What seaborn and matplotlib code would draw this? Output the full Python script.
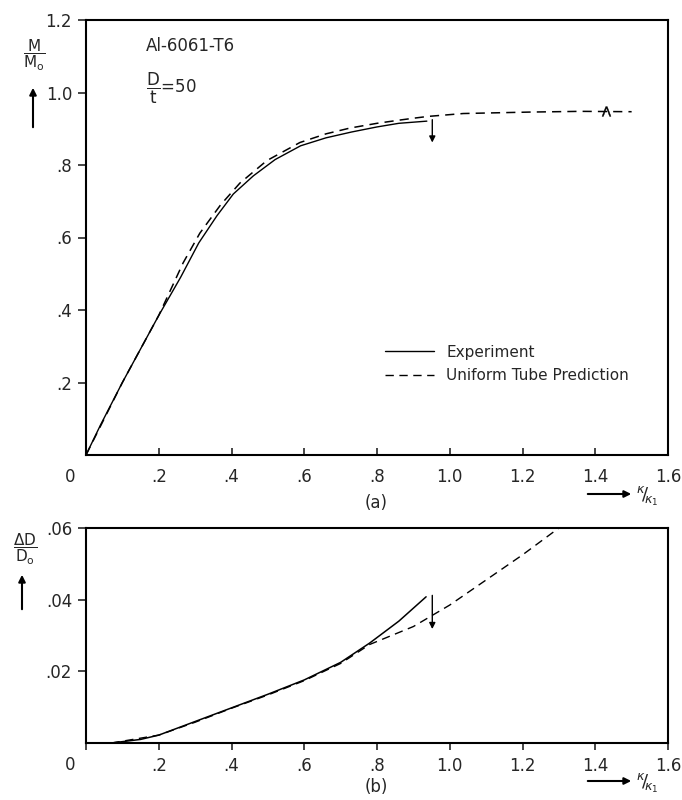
import numpy as np
import pandas as pd
import matplotlib
matplotlib.use("Agg")
import matplotlib.pyplot as plt
import seaborn as sns

# ---------------- data ----------------
# Panel (a): M/Mo versus kappa/kappa1
exp_a_x = [0.0, 0.04, 0.10, 0.20, 0.26, 0.31, 0.36, 0.405, 0.46, 0.52, 0.59, 0.66, 0.73, 0.80, 0.86, 0.937]
exp_a_y = [0.0, 0.083, 0.20, 0.385, 0.49, 0.585, 0.66, 0.72, 0.77, 0.815, 0.853, 0.875, 0.891, 0.905, 0.915, 0.921]
pred_a_x = [0.0, 0.10, 0.20, 0.267, 0.313, 0.37, 0.423, 0.497, 0.588, 0.66, 0.726, 0.80, 0.863, 0.90, 0.94, 1.037, 1.22, 1.36, 1.50]
pred_a_y = [0.0, 0.20, 0.385, 0.53, 0.612, 0.69, 0.75, 0.812, 0.862, 0.886, 0.902, 0.915, 0.924, 0.929, 0.934, 0.942, 0.946, 0.948, 0.947]

# Panel (b): dD/Do versus kappa/kappa1
exp_b_x = [0.07, 0.15, 0.20, 0.30, 0.40, 0.50, 0.60, 0.70, 0.78, 0.86, 0.935]
exp_b_y = [0.0, 0.0010, 0.0022, 0.0060, 0.0098, 0.0136, 0.0176, 0.0225, 0.0279, 0.0340, 0.0408]
pred_b_x = [0.07, 0.20, 0.30, 0.40, 0.50, 0.60, 0.70, 0.78, 0.90, 1.00, 1.10, 1.20, 1.30]
pred_b_y = [0.0, 0.0022, 0.0058, 0.0097, 0.0134, 0.0174, 0.0222, 0.0275, 0.0325, 0.0385, 0.0455, 0.0525, 0.0600]

# buckling/collapse arrows (x, y_start, y_end) and the marked point on the prediction
arrow_a = (0.952, 0.925, 0.862)
arrow_b = (0.952, 0.0412, 0.0318)
caret_a = (1.43, 0.950)

x_ticks = [0, 0.2, 0.4, 0.6, 0.8, 1.0, 1.2, 1.4, 1.6]
x_ticklabels = ["", ".2", ".4", ".6", ".8", "1.0", "1.2", "1.4", "1.6"]
ya_ticks = [0.2, 0.4, 0.6, 0.8, 1.0, 1.2]
ya_ticklabels = [".2", ".4", ".6", ".8", "1.0", "1.2"]
yb_ticks = [0.02, 0.04, 0.06]
yb_ticklabels = [".02", ".04", ".06"]

# ---------------- style ----------------
sns.set_style("ticks")
plt.rcParams["font.family"] = ["DejaVu Sans"]
plt.rcParams["mathtext.fontset"] = "dejavusans"

W, H = 682, 800
fig = plt.figure(figsize=(W / 100, H / 100), dpi=100)


def fx(px):
    return px / W


def fy(py):
    return 1 - py / H


ax_a = fig.add_axes([fx(86), fy(455), fx(668) - fx(86), fy(20) - fy(455)])
ax_b = fig.add_axes([fx(86), fy(743), fx(668) - fx(86), fy(528) - fy(743)])

dash = (0, (6, 4))

df_ea = pd.DataFrame({"x": exp_a_x, "y": exp_a_y})
df_pa = pd.DataFrame({"x": pred_a_x, "y": pred_a_y})
df_eb = pd.DataFrame({"x": exp_b_x, "y": exp_b_y})
df_pb = pd.DataFrame({"x": pred_b_x, "y": pred_b_y})

sns.lineplot(data=df_ea, x="x", y="y", ax=ax_a, color="black", lw=1.0,
             sort=False, estimator=None, label="Experiment")
sns.lineplot(data=df_pa, x="x", y="y", ax=ax_a, color="black", lw=1.1,
             sort=False, estimator=None, label="Uniform Tube Prediction", linestyle=dash)
sns.lineplot(data=df_eb, x="x", y="y", ax=ax_b, color="black", lw=1.1,
             sort=False, estimator=None, legend=False)
sns.lineplot(data=df_pb, x="x", y="y", ax=ax_b, color="black", lw=1.0,
             sort=False, estimator=None, legend=False, linestyle=dash)

for ax, arr in ((ax_a, arrow_a), (ax_b, arrow_b)):
    ax.annotate("", xy=(arr[0], arr[2]), xytext=(arr[0], arr[1]),
                arrowprops=dict(arrowstyle="-|>", color="black", lw=1.0,
                                mutation_scale=9, shrinkA=0, shrinkB=0))

ax_a.plot([caret_a[0]], [caret_a[1]], marker=r"$\Lambda$", ms=7, color="black",
          mew=0.3, ls="none")

# legend
leg = ax_a.legend(loc="upper left", bbox_to_anchor=(0.49, 0.285), frameon=False,
                  fontsize=11, handlelength=3.2, handletextpad=0.8, labelspacing=0.55)
for line in leg.get_lines():
    line.set_linewidth(1.0)

# axes formatting
for ax in (ax_a, ax_b):
    ax.set_xlim(0, 1.6)
    ax.set_xticks(x_ticks)
    ax.set_xticklabels(x_ticklabels, fontsize=12)
    ax.set_xlabel("")
    ax.set_ylabel("")
    for s in ax.spines.values():
        s.set_linewidth(1.5)
        s.set_color("black")
        s.set_visible(True)
    ax.tick_params(axis="y", direction="out", length=6, width=1.2, pad=4, labelsize=12)
    ax.annotate("0", xy=(0, 0), xytext=(-16, -22), textcoords="offset pixels",
                ha="center", va="center", fontsize=12)

ax_a.set_ylim(0, 1.2)
ax_a.set_yticks(ya_ticks)
ax_a.set_yticklabels(ya_ticklabels)
ax_a.tick_params(axis="x", direction="in", length=5, width=1.2, pad=9, labelsize=12)

ax_b.set_ylim(0, 0.06)
ax_b.set_yticks(yb_ticks)
ax_b.set_yticklabels(yb_ticklabels)
ax_b.tick_params(axis="x", direction="out", length=5, width=1.2, pad=5, labelsize=12)

# annotations in panel (a)
fig.text(fx(146), fy(46), "Al-6061-T6", fontsize=12, ha="left", va="center")
fig.text(fx(146), fy(88), r"$\dfrac{\mathrm{D}}{\mathrm{t}}$=50", fontsize=12, ha="left", va="center")

# y-axis labels with arrows
fig.text(fx(34), fy(55), r"$\dfrac{\mathrm{M}}{\mathrm{M_o}}$", fontsize=11, ha="center", va="center")
fig.add_artist(matplotlib.patches.FancyArrowPatch(
    (fx(33), fy(130)), (fx(33), fy(85)), transform=fig.transFigure,
    arrowstyle="-|>", mutation_scale=10, color="black", lw=1.5))
fig.text(fx(25), fy(549), r"$\dfrac{\Delta\mathrm{D}}{\mathrm{D_o}}$", fontsize=11, ha="center", va="center")
fig.add_artist(matplotlib.patches.FancyArrowPatch(
    (fx(22), fy(612)), (fx(22), fy(572)), transform=fig.transFigure,
    arrowstyle="-|>", mutation_scale=10, color="black", lw=1.5))

# x-axis labels with arrows
for py_sub, py_arr, tag in ((503, 494, "(a)"), (787, 781, "(b)")):
    fig.text(fx(376), fy(py_sub), tag, fontsize=12, ha="center", va="center")
    fig.add_artist(matplotlib.patches.FancyArrowPatch(
        (fx(585), fy(py_arr)), (fx(634), fy(py_arr)), transform=fig.transFigure,
        arrowstyle="-|>", mutation_scale=10, color="black", lw=1.5))
    fig.text(fx(636), fy(py_arr + 2), r"$^{\kappa}\!/\!_{\kappa_1}$", fontsize=13,
             ha="left", va="center")

fig.savefig("out.png", dpi=100)
